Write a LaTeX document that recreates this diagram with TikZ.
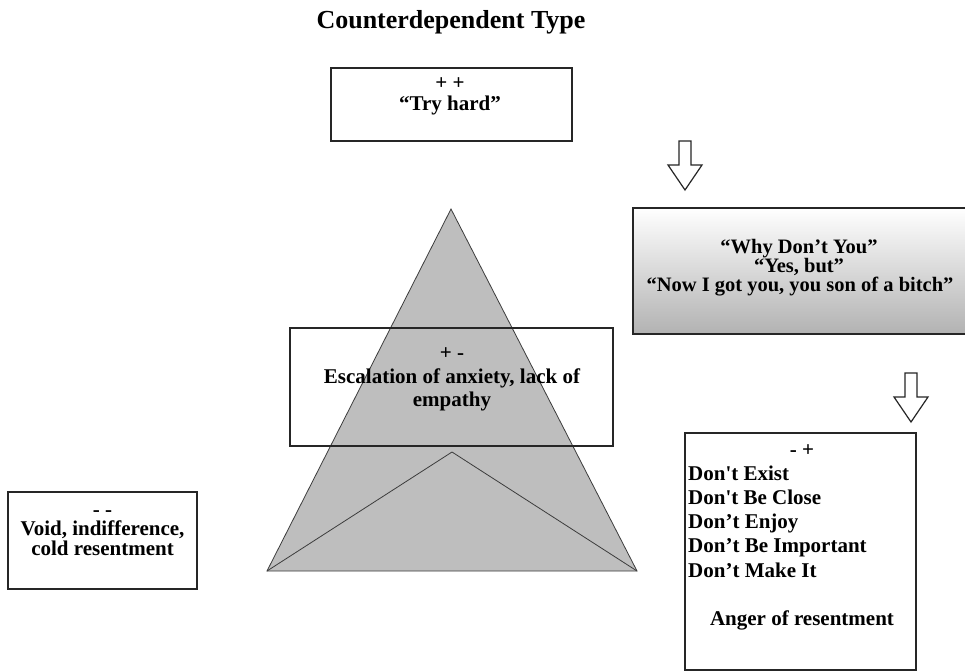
\documentclass[tikz,border=0pt]{standalone}
\usepackage{fontspec}
\setmainfont{Liberation Serif}
\definecolor{trifill}{RGB}{190,190,190}
\definecolor{triline}{RGB}{60,60,60}
\definecolor{gradbot}{RGB}{178,178,178}
\begin{document}
\begin{tikzpicture}[x=1pt,y=-1pt,
  box/.style={draw=black!85, line width=1.3pt, inner sep=0pt},
  lbl/.style={inner sep=0pt, anchor=base, font=\fontsize{21}{24}\selectfont\bfseries},
  lblgame/.style={lbl, font=\fontsize{20.5}{23}\selectfont\bfseries},
  lblleft/.style={lbl, anchor=base west},
  title/.style={inner sep=0pt, anchor=base, font=\fontsize{26}{29}\selectfont\bfseries},
  downarrow/.pic={
    \draw[draw=black!85, line width=1.2pt, fill=white, line join=miter]
      (-6,0) -- (6,0) -- (6,24) -- (17,24) -- (0,49) -- (-17,24) -- (-6,24) -- cycle;
  }]
\useasboundingbox (0,0) rectangle (965,671);
\fill[white] (0,0) rectangle (965,671);

% heading
\node[title] (heading) at (451,29) {Counterdependent Type};

% "++" box
\node[box, minimum width=241pt, minimum height=73pt] (tryBox) at (451.5,104.5) {};
\node[lbl] (tryA) at (450,90) {+ +};
\node[lbl] (tryB) at (450,111) {“Try hard”};

% block arrows
\pic at (685,141) {downarrow};
\pic at (911,373) {downarrow};

% pyramid
\coordinate (apex) at (451,209);
\coordinate (baseL) at (267,571);
\coordinate (baseR) at (637,571);
\coordinate (inner) at (452,452);
\draw[fill=trifill, draw=triline, line width=0.8pt, line join=miter] (apex) -- (baseR) -- (baseL) -- cycle;
\draw[draw=triline, line width=0.8pt] (baseL) -- (inner) -- (baseR);

% "+-" box over the pyramid
\node[box, minimum width=323pt, minimum height=118pt] (escBox) at (451.5,387) {};
\node[lbl] (escA) at (452,359) {+ -};
\node[lbl] (escB) at (452,383) {Escalation of anxiety, lack of};
\node[lbl] (escC) at (452,406) {empathy};

% games box with vertical shading
\node[box, top color=white, bottom color=gradbot, minimum width=337pt, minimum height=126pt] (whyBox) at (801.5,271) {};
\node[lblgame] (whyA) at (799,253) {“Why Don’t You”};
\node[lblgame] (whyB) at (799,272) {“Yes, but”};
\node[lblgame] (whyC) at (800,291) {“Now I got you, you son of a bitch”};

% "-+" box
\node[box, fill=white, minimum width=231pt, minimum height=237pt] (injBox) at (800.5,551.5) {};
\node[lbl] (injA) at (802,456) {- +};
\node[lblleft] (injB) at (688,480) {Don\textquotesingle t Exist};
\node[lblleft] (injC) at (688,504) {Don\textquotesingle t Be Close};
\node[lblleft] (injD) at (688,528) {Don’t Enjoy};
\node[lblleft] (injE) at (688,552) {Don’t Be Important};
\node[lblleft] (injF) at (688,577) {Don’t Make It};
\node[lbl] (injG) at (802,625) {Anger of resentment};

% "--" box
\node[box, fill=white, minimum width=189pt, minimum height=97pt] (voidBox) at (102.5,540.5) {};
\node[lbl] (voidA) at (102.5,516) {- -};
\node[lbl] (voidB) at (102.5,535) {Void, indifference,};
\node[lbl] (voidC) at (102.5,555) {cold resentment};
\end{tikzpicture}
\end{document}
